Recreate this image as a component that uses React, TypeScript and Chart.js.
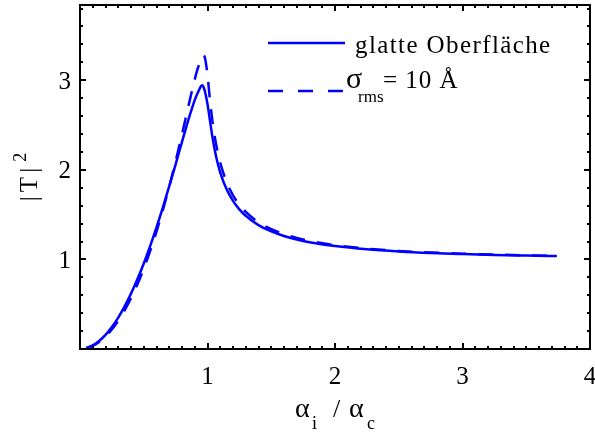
import React, { useEffect, useRef } from "react";
import { Chart, registerables } from "chart.js";

Chart.register(...registerables);

// angle of incidence relative to critical angle (alpha_i / alpha_c)
const xValues = [
  0.05, 0.1, 0.15, 0.2, 0.25, 0.3, 0.35, 0.4, 0.45, 0.5, 0.55, 0.6, 0.65, 0.7,
  0.75, 0.8, 0.85, 0.88, 0.9, 0.92, 0.94, 0.95, 0.96, 0.97, 0.98, 0.99, 1.0,
  1.02, 1.04, 1.06, 1.08, 1.1, 1.15, 1.2, 1.25, 1.3, 1.4, 1.5, 1.6, 1.7, 1.8,
  2.0, 2.25, 2.5, 2.75, 3.0, 3.25, 3.5, 3.74,
];

// |T|^2, smooth surface
const smoothValues = [
  0.01, 0.04, 0.089, 0.157, 0.245, 0.351, 0.475, 0.618, 0.778, 0.955, 1.149,
  1.358, 1.581, 1.817, 2.062, 2.312, 2.558, 2.695, 2.778, 2.848, 2.91, 2.935,
  2.945, 2.92, 2.875, 2.81, 2.735, 2.543, 2.354, 2.198, 2.073, 1.97, 1.782,
  1.653, 1.559, 1.487, 1.383, 1.312, 1.261, 1.222, 1.192, 1.149, 1.113, 1.089,
  1.072, 1.06, 1.05, 1.043, 1.037,
];

// |T|^2, rough surface sigma_rms = 10 A
const roughValues = [
  0.009, 0.035, 0.078, 0.14, 0.218, 0.315, 0.431, 0.566, 0.72, 0.895, 1.092,
  1.31, 1.55, 1.812, 2.096, 2.397, 2.709, 2.893, 3.009, 3.115, 3.2, 3.24, 3.27,
  3.28, 3.25, 3.17, 3.06, 2.77, 2.53, 2.345, 2.197, 2.078, 1.862, 1.716, 1.61,
  1.53, 1.415, 1.337, 1.281, 1.239, 1.207, 1.159, 1.121, 1.095, 1.077, 1.064,
  1.054, 1.046, 1.04,
];

const xTickValues = [1, 2, 3, 4];
const yTickValues = [1, 2, 3];
const xMinorStep = 0.1;
const yMinorStep = 0.2;
const xLimits = [0, 4];
const yLimits = [0, 3.84];
const legendLabels = ["glatte Oberfläche", "σ", "rms", "= 10 Å"];

const BLUE = "#0000ff";
const FONT = '"Liberation Serif", "Times New Roman", serif';

const framePlugin = {
  id: "matlabFrame",
  afterDatasetsDraw(chart: any) {
    const { ctx, chartArea: a, scales } = chart;
    const xs = scales.x;
    const ys = scales.y;
    ctx.save();

    // frame
    ctx.strokeStyle = "#000";
    ctx.lineWidth = 2;
    ctx.strokeRect(a.left, a.top, a.right - a.left, a.bottom - a.top);

    // ticks (inward, on all sides)
    ctx.beginPath();
    const nx = Math.round((xLimits[1] - xLimits[0]) / xMinorStep);
    for (let i = 0; i <= nx; i++) {
      const v = xLimits[0] + i * xMinorStep;
      const major = xTickValues.some((t) => Math.abs(t - v) < 1e-6) || i === 0;
      const len = major ? 6 : 3;
      const px = Math.round(xs.getPixelForValue(v));
      ctx.moveTo(px, a.bottom);
      ctx.lineTo(px, a.bottom - len);
      ctx.moveTo(px, a.top);
      ctx.lineTo(px, a.top + len);
    }
    for (let i = 0; yLimits[0] + i * yMinorStep <= yLimits[1] + 1e-6; i++) {
      const v = yLimits[0] + i * yMinorStep;
      const major = yTickValues.some((t) => Math.abs(t - v) < 1e-6) || i === 0;
      const len = major ? 6 : 3;
      const py = Math.round(ys.getPixelForValue(v));
      ctx.moveTo(a.left, py);
      ctx.lineTo(a.left + len, py);
      ctx.moveTo(a.right, py);
      ctx.lineTo(a.right - len, py);
    }
    ctx.lineWidth = 2;
    ctx.stroke();

    // tick labels
    ctx.fillStyle = "#000";
    ctx.font = `25px ${FONT}`;
    ctx.textAlign = "center";
    ctx.textBaseline = "alphabetic";
    xTickValues.forEach((t) => {
      ctx.fillText(String(t), xs.getPixelForValue(t), a.bottom + 35);
    });
    ctx.textAlign = "right";
    yTickValues.forEach((t) => {
      ctx.fillText(String(t), a.left - 9, ys.getPixelForValue(t) + 8.5);
    });

    // x axis title: alpha_i / alpha_c
    const cx = (a.left + a.right) / 2;
    const base = a.bottom + 68;
    ctx.textAlign = "left";
    ctx.font = `28px ${FONT}`;
    ctx.fillText("α", cx - 40, base);
    ctx.fillText("α", cx + 14, base);
    ctx.font = `26px ${FONT}`;
    ctx.fillText("/", cx - 2, base);
    ctx.font = `18px ${FONT}`;
    ctx.fillText("i", cx - 23, base + 12);
    ctx.fillText("c", cx + 32, base + 12);

    // y axis title: |T|^2
    ctx.save();
    const cy = (a.top + a.bottom) / 2;
    ctx.translate(37, cy);
    ctx.rotate(-Math.PI / 2);
    ctx.font = `25px ${FONT}`;
    (ctx as any).letterSpacing = "4px";
    const w1 = ctx.measureText("|T|").width;
    ctx.font = `18px ${FONT}`;
    (ctx as any).letterSpacing = "0px";
    const w2 = ctx.measureText("2").width;
    const start = -(w1 + w2 + 2) / 2;
    ctx.font = `25px ${FONT}`;
    (ctx as any).letterSpacing = "4px";
    ctx.fillText("|T|", start, 0);
    ctx.font = `18px ${FONT}`;
    (ctx as any).letterSpacing = "0px";
    ctx.fillText("2", start + w1 + 2, -11);
    ctx.restore();

    // legend
    ctx.strokeStyle = BLUE;
    ctx.lineWidth = 2.5;
    ctx.beginPath();
    ctx.moveTo(268, 43);
    ctx.lineTo(345, 43);
    ctx.stroke();
    ctx.setLineDash([15, 15]);
    ctx.beginPath();
    ctx.moveTo(268, 91);
    ctx.lineTo(345, 91);
    ctx.stroke();
    ctx.setLineDash([]);

    ctx.fillStyle = "#000";
    ctx.textAlign = "left";
    ctx.font = `25px ${FONT}`;
    (ctx as any).letterSpacing = "1.4px";
    ctx.fillText(legendLabels[0], 355, 53);
    (ctx as any).letterSpacing = "0px";
    ctx.font = `30px ${FONT}`;
    ctx.fillText(legendLabels[1], 346, 88);
    ctx.font = `17px ${FONT}`;
    ctx.fillText(legendLabels[2], 358, 102);
    ctx.font = `25px ${FONT}`;
    (ctx as any).letterSpacing = "1px";
    ctx.fillText(legendLabels[3], 383, 88);

    ctx.restore();
  },
};

export default function App() {
  const canvasRef = useRef<HTMLCanvasElement | null>(null);

  useEffect(() => {
    if (!canvasRef.current) return;
    const chart = new Chart(canvasRef.current, {
      type: "line",
      data: {
        datasets: [
          {
            label: legendLabels[0],
            data: xValues.map((x, i) => ({ x, y: smoothValues[i] })),
            borderColor: BLUE,
            borderWidth: 2.5,
            pointRadius: 0,
            cubicInterpolationMode: "monotone",
            fill: false,
          },
          {
            label: "σrms = 10 Å",
            data: xValues.map((x, i) => ({ x, y: roughValues[i] })),
            borderColor: BLUE,
            borderWidth: 2.5,
            borderDash: [15, 12],
            pointRadius: 0,
            cubicInterpolationMode: "monotone",
            fill: false,
          },
        ],
      },
      options: {
        animation: false,
        responsive: false,
        events: [],
        layout: {
          autoPadding: false,
          padding: { left: 80, right: 5, top: 5, bottom: 83 },
        },
        plugins: {
          legend: { display: false },
          tooltip: { enabled: false },
          title: { display: false },
        },
        scales: {
          x: {
            type: "linear",
            min: xLimits[0],
            max: xLimits[1],
            display: false,
          },
          y: {
            type: "linear",
            min: yLimits[0],
            max: yLimits[1],
            display: false,
          },
        },
      },
      plugins: [framePlugin],
    } as any);
    return () => chart.destroy();
  }, []);

  return (
    <div
      style={{
        position: "absolute",
        left: 0,
        top: 0,
        width: 595,
        height: 432,
        background: "#fff",
      }}
    >
      <canvas ref={canvasRef} width={595} height={432} />
    </div>
  );
}
